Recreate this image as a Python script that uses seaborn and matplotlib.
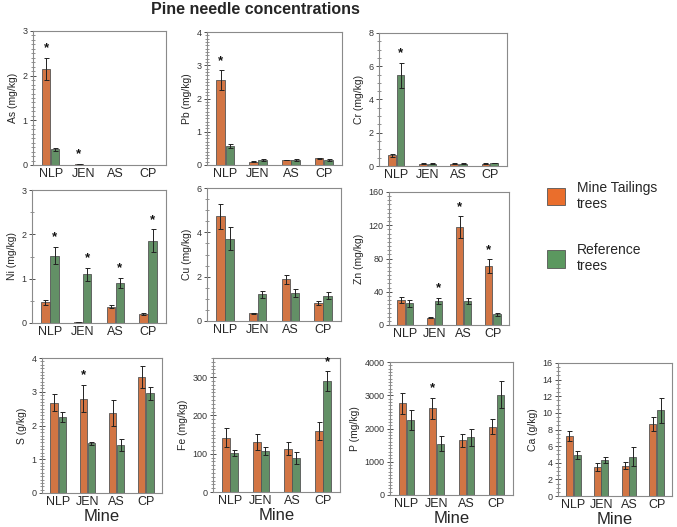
import numpy as np
import pandas as pd
import matplotlib.pyplot as plt
import seaborn as sns
from matplotlib.patches import Patch
from matplotlib.ticker import AutoMinorLocator, MultipleLocator

sns.set_style('white')
plt.rcParams['font.family'] = ['Liberation Sans', 'DejaVu Sans']

mines = ['NLP', 'JEN', 'AS', 'CP']
groups = ['Mine Tailings trees', 'Reference trees']
orange = '#EA6E2C'
green = '#5B985F'

# means and error bars (mine tailings / reference)
as_mine = [2.15, 0.02, 0.01, 0.01]
as_mine_err = [0.25, 0.005, 0.0, 0.0]
as_ref = [0.35, 0.01, 0.01, 0.01]
as_ref_err = [0.04, 0.0, 0.0, 0.0]

pb_mine = [2.55, 0.10, 0.15, 0.20]
pb_mine_err = [0.30, 0.01, 0.01, 0.02]
pb_ref = [0.57, 0.15, 0.15, 0.15]
pb_ref_err = [0.07, 0.02, 0.02, 0.02]

cr_mine = [0.65, 0.15, 0.15, 0.15]
cr_mine_err = [0.08, 0.01, 0.01, 0.01]
cr_ref = [5.45, 0.15, 0.15, 0.18]
cr_ref_err = [0.75, 0.02, 0.02, 0.02]

ni_mine = [0.47, 0.02, 0.37, 0.20]
ni_mine_err = [0.06, 0.005, 0.03, 0.02]
ni_ref = [1.52, 1.10, 0.90, 1.86]
ni_ref_err = [0.20, 0.15, 0.12, 0.25]

cu_mine = [4.72, 0.35, 1.88, 0.82]
cu_mine_err = [0.55, 0.03, 0.20, 0.10]
cu_ref = [3.72, 1.20, 1.27, 1.15]
cu_ref_err = [0.52, 0.15, 0.17, 0.15]

zn_mine = [30, 9, 118, 71]
zn_mine_err = [4, 1, 13, 8]
zn_ref = [26, 29, 29, 13]
zn_ref_err = [4, 4, 4, 2]

s_mine = [2.68, 2.80, 2.37, 3.43]
s_mine_err = [0.26, 0.40, 0.38, 0.33]
s_ref = [2.25, 1.47, 1.42, 2.95]
s_ref_err = [0.14, 0.05, 0.19, 0.20]

fe_mine = [142, 130, 113, 160]
fe_mine_err = [25, 21, 17, 23]
fe_ref = [102, 107, 89, 290]
fe_ref_err = [7, 10, 15, 25]

p_mine = [2760, 2610, 1640, 2060]
p_mine_err = [320, 320, 200, 240]
p_ref = [2250, 1540, 1730, 3020]
p_ref_err = [310, 220, 250, 410]

ca_mine = [7.2, 3.5, 3.65, 8.65]
ca_mine_err = [0.6, 0.5, 0.4, 0.8]
ca_ref = [4.9, 4.35, 4.75, 10.3]
ca_ref_err = [0.5, 0.4, 1.2, 1.5]

# stars: (group index, mine index)
as_stars = [(0, 0), (0, 1)]
pb_stars = [(0, 0)]
cr_stars = [(1, 0)]
ni_stars = [(1, 0), (1, 1), (1, 2), (1, 3)]
cu_stars = []
zn_stars = [(1, 1), (0, 2), (0, 3)]
s_stars = [(0, 1)]
fe_stars = [(1, 3)]
p_stars = [(0, 1)]
ca_stars = []

W, H = 677, 527
fig = plt.figure(figsize=(W / 100, H / 100), dpi=100)


def add_ax(l, t, r, b):
    return fig.add_axes([l / W, 1 - b / H, (r - l) / W, (b - t) / H])


def draw(ax, mv, me, rv, re, stars, ylabel, ymax, step, minor, xlabel=False):
    df = pd.DataFrame({'mine': mines * 2,
                       'group': [groups[0]] * 4 + [groups[1]] * 4,
                       'value': mv + rv})
    sns.barplot(data=df, x='mine', y='value', hue='group', palette=[orange, green],
                width=0.56, gap=0.1, errorbar=None, edgecolor='#555555',
                linewidth=0.6, legend=False, ax=ax)
    pad = ymax * 0.025
    for gi, (cont, errs) in enumerate(zip(ax.containers, [me, re])):
        xs = [b.get_x() + b.get_width() / 2 for b in cont]
        hs = [b.get_height() for b in cont]
        ax.errorbar(xs, hs, yerr=errs, fmt='none', ecolor='#222222',
                    elinewidth=0.7, capsize=1.8, capthick=0.7)
        for g, m in stars:
            if g == gi:
                ax.text(xs[m], hs[m] + errs[m] + pad, '*', ha='center', va='bottom',
                        fontsize=9.5, fontweight='bold', color='#111111')
    ax.set_ylim(0, ymax)
    ax.set_xlim(-0.55, 3.55)
    ax.yaxis.set_major_locator(MultipleLocator(step))
    ax.yaxis.set_minor_locator(AutoMinorLocator(minor))
    ax.tick_params(axis='y', which='major', direction='inout', length=4, width=0.6,
                   labelsize=6.5, colors='#333333', left=True, pad=2)
    ax.tick_params(axis='y', which='minor', direction='inout', length=2.5, width=0.5,
                   left=True, color='#666666')
    ax.tick_params(axis='x', length=0, labelsize=9, pad=2)
    ax.set_ylabel(ylabel, fontsize=7.5, labelpad=3)
    ax.set_xlabel('Mine' if xlabel else '', fontsize=12, labelpad=1)
    for sp in ax.spines.values():
        sp.set_color('#8a8a8a')
        sp.set_linewidth(0.8)


draw(add_ax(33, 31, 166, 165), as_mine, as_mine_err, as_ref, as_ref_err, as_stars,
     'As (mg/kg)', 3, 1, 10)
draw(add_ax(207, 32, 342, 165), pb_mine, pb_mine_err, pb_ref, pb_ref_err, pb_stars,
     'Pb (mg/kg)', 4, 1, 10)
draw(add_ax(379, 33, 507, 166), cr_mine, cr_mine_err, cr_ref, cr_ref_err, cr_stars,
     'Cr (mg/kg)', 8, 2, 4)
draw(add_ax(32, 190, 166, 323), ni_mine, ni_mine_err, ni_ref, ni_ref_err, ni_stars,
     'Ni (mg/kg)', 3, 1, 2)
draw(add_ax(207, 188, 341, 321), cu_mine, cu_mine_err, cu_ref, cu_ref_err, cu_stars,
     'Cu (mg/kg)', 6, 2, 4)
draw(add_ax(389, 192, 509, 325), zn_mine, zn_mine_err, zn_ref, zn_ref_err, zn_stars,
     'Zn (mg/kg)', 160, 40, 8)
draw(add_ax(42, 358, 162, 493), s_mine, s_mine_err, s_ref, s_ref_err, s_stars,
     'S (g/kg)', 4, 1, 10, xlabel=True)
draw(add_ax(213, 358, 340, 492), fe_mine, fe_mine_err, fe_ref, fe_ref_err, fe_stars,
     'Fe (mg/kg)', 350, 100, 10, xlabel=True)
draw(add_ax(390, 362, 513, 495), p_mine, p_mine_err, p_ref, p_ref_err, p_stars,
     'P (mg/kg)', 4000, 1000, 10, xlabel=True)
draw(add_ax(558, 363, 672, 496), ca_mine, ca_mine_err, ca_ref, ca_ref_err, ca_stars,
     'Ca (g/kg)', 16, 2, 4, xlabel=True)

fig.text(255 / W, 1 - 9 / H, 'Pine needle concentrations', ha='center', va='center',
         fontsize=11.5, fontweight='bold')

handles = [Patch(facecolor=orange, edgecolor='#555555', linewidth=0.6),
           Patch(facecolor=green, edgecolor='#555555', linewidth=0.6)]
fig.legend(handles, ['Mine Tailings\ntrees', 'Reference\ntrees'],
           loc='upper left', bbox_to_anchor=(534 / W, 1 - 168 / H), frameon=False,
           fontsize=10, handlelength=1.3, handleheight=1.6, labelspacing=2.3,
           handletextpad=0.9)

fig.savefig('out.png', dpi=100)
